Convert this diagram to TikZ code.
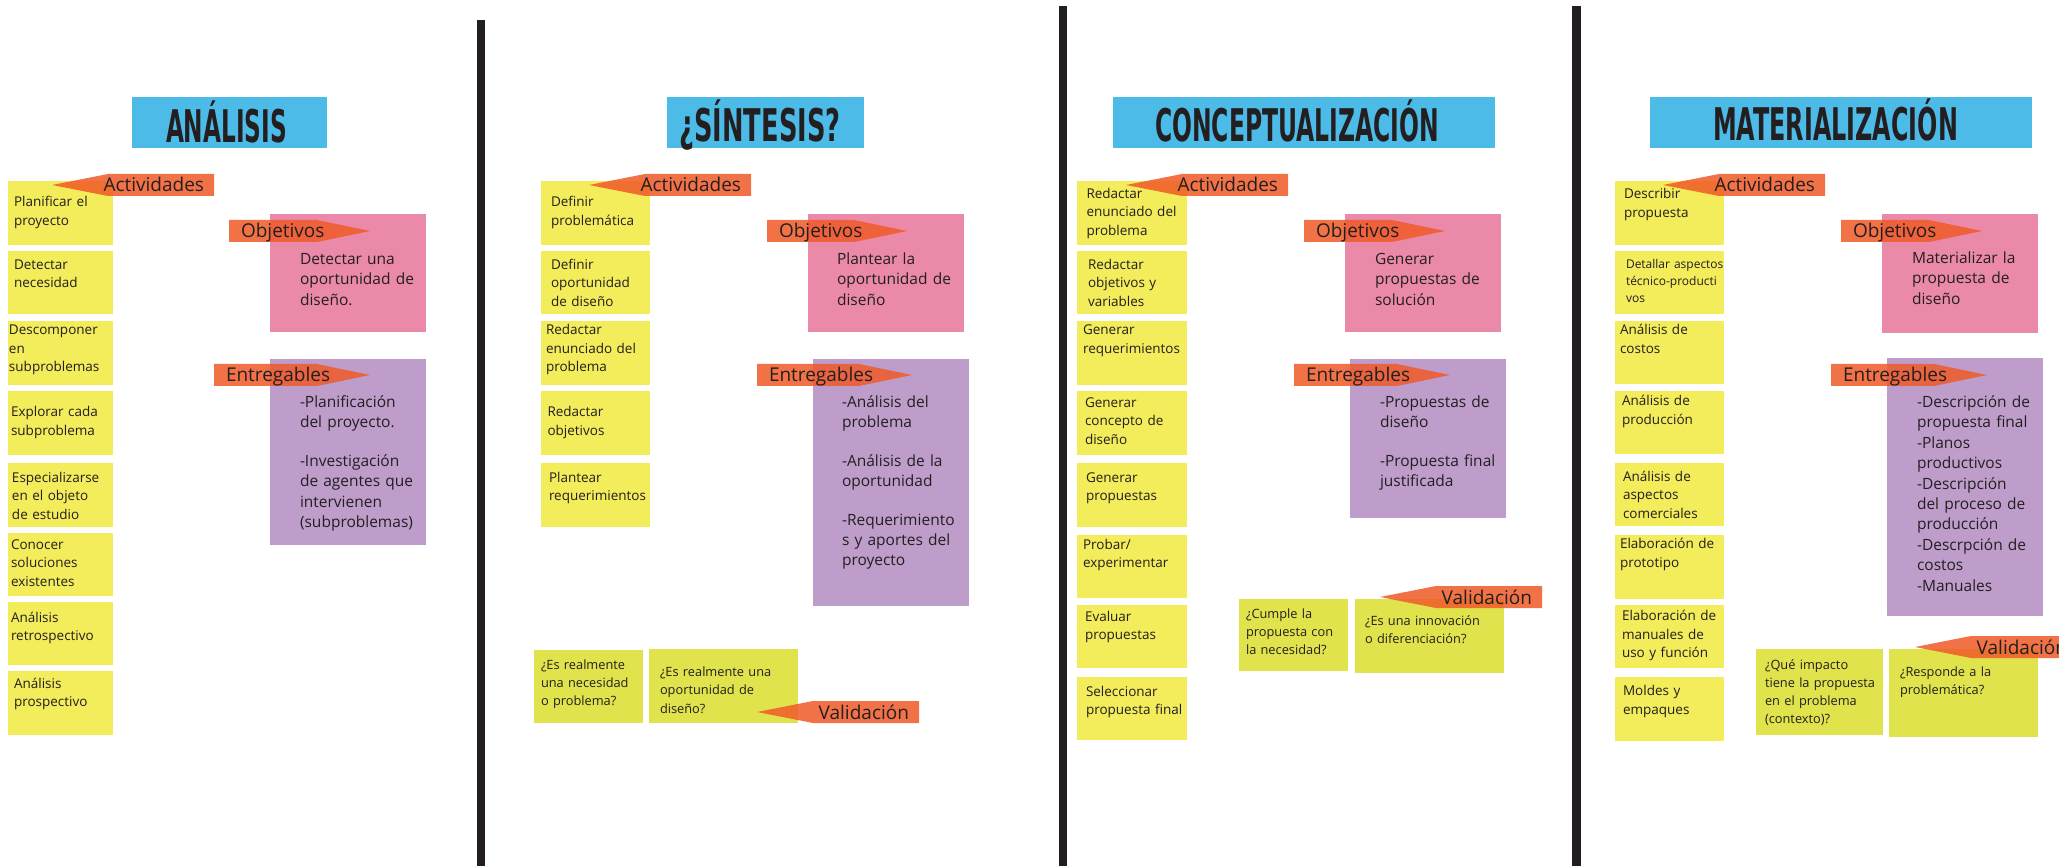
\documentclass[tikz,border=0pt]{standalone}
\usepackage{fontspec}
\usepackage{graphicx}
\setmainfont{Open Sans}
\newfontfamily\titlefont{DejaVu Sans}
\usetikzlibrary{fit}

\definecolor{ink}{RGB}{35,31,32}
\definecolor{titleblue}{RGB}{77,187,231}
\definecolor{postit}{RGB}{243,236,91}
\definecolor{lime}{RGB}{224,227,76}
\definecolor{rose}{RGB}{234,137,168}
\definecolor{lilac}{RGB}{190,157,203}
\definecolor{tagorange}{RGB}{240,90,40}

\tikzset{
  card/.style={rectangle, inner sep=0pt, outer sep=0pt, draw=none},
  txt/.style={inner sep=0pt, outer sep=0pt, anchor=base west, text width=220pt, align=left, text=ink},
  acttxt/.style={txt, font=\fontsize{13.5}{18.5}\selectfont},
  smalltxt/.style={txt, font=\fontsize{12}{17}\selectfont},
  bigtxt/.style={txt, font=\fontsize{15.5}{20.4}\selectfont},
  valtxt/.style={txt, font=\fontsize{12.8}{18.2}\selectfont},
  tagfill/.style={fill=tagorange, fill opacity=0.85},
  tagtxt/.style={inner sep=0pt, outer sep=0pt, text=ink, font=\fontsize{19}{19}\selectfont},
  titletxt/.style={inner sep=0pt, outer sep=0pt, anchor=base, text=ink},
  divider/.style={fill=ink}
}

% a coloured card spanning two corners
\newcommand\cardbox[4]{%
  \path (#3) coordinate (#2-nw) (#4) coordinate (#2-se);
  \node[card, #1, fit=(#2-nw)(#2-se)] (#2) {};}
% text placed at the baseline of its first line
\newcommand\cardtext[4]{\node[#1] (#2) at (#3) {#4};}
% tag pointing left: name, tip x, top y, label
\newcommand\tagL[4]{%
  \fill[tagfill] (#2,#3+11) -- (#2+56,#3) -- (#2+162,#3) -- (#2+162,#3+22) -- (#2+56,#3+22) -- cycle;
  \node[tagtxt, anchor=base east] (#1) at (#2+152,#3+18) {#4};}
% tag pointing right: name, left x, tip x, top y, label
\newcommand\tagR[5]{%
  \fill[tagfill] (#2,#4) -- (#3-53,#4) -- (#3,#4+11) -- (#3-53,#4+22) -- (#2,#4+22) -- cycle;
  \node[tagtxt, anchor=base west] (#1) at (#2+12,#4+18) {#5};}
% heading: name, centre x, baseline y, width, text
\newcommand\heading[5]{%
  \node[titletxt] (#1) at (#2,#3) {\resizebox{#4pt}{\height}{\titlefont\bfseries\fontsize{45}{45}\selectfont #5}};}

\begin{document}
\begin{tikzpicture}[x=1pt, y=-1pt]
\useasboundingbox (0,0) rectangle (2059,866);
\fill[white] (0,0) rectangle (2059,866);

% column dividers
\fill[divider] (477,20) rectangle (485,866);
\fill[divider] (1059,6) rectangle (1067,866);
\fill[divider] (1572,6) rectangle (1581,866);

% ---------------- headings ----------------
\cardbox{fill=titleblue}{h1}{132,97}{327,148}
\cardbox{fill=titleblue}{h2}{667,97}{864,148}
\cardbox{fill=titleblue}{h3}{1113,97}{1495,148}
\cardbox{fill=titleblue}{h4}{1650,97}{2032,148}
\heading{h1t}{226.5}{143}{121}{ANÁLISIS}
\heading{h2t}{760}{142}{161}{¿SÍNTESIS?}
\heading{h3t}{1297}{142}{284}{CONCEPTUALIZACIÓN}
\heading{h4t}{1835.5}{141}{245}{MATERIALIZACIÓN}

% ---------------- column 1: analysis ----------------
\cardbox{fill=postit}{a1}{8,181}{113,245}
\cardbox{fill=postit}{a2}{8,251}{113,314}
\cardbox{fill=postit}{a3}{8,321}{113,385}
\cardbox{fill=postit}{a4}{8,391}{113,455}
\cardbox{fill=postit}{a5}{8,463}{113,527}
\cardbox{fill=postit}{a6}{8,533}{113,596}
\cardbox{fill=postit}{a7}{8,602}{113,665}
\cardbox{fill=postit}{a8}{8,671}{113,735}
\cardtext{acttxt}{a1t}{14,207}{Planificar el\\proyecto}
\cardtext{acttxt}{a2t}{14,269.5}{Detectar\\necesidad}
\cardtext{acttxt}{a3t}{9,335}{Descomponer\\en\\subproblemas}
\cardtext{acttxt}{a4t}{11,417}{Explorar cada\\subproblema}
\cardtext{acttxt}{a5t}{12,482}{Especializarse\\en el objeto\\de estudio}
\cardtext{acttxt}{a6t}{11,549}{Conocer\\soluciones\\existentes}
\cardtext{acttxt}{a7t}{11,622}{Análisis\\retrospectivo}
\cardtext{acttxt}{a8t}{14,688}{Análisis\\prospectivo}
\tagL{a-act}{52}{174}{Actividades}

\cardbox{fill=rose}{a-obj}{270,214}{426,332}
\cardtext{bigtxt}{a-objt}{300,264.5}{Detectar una\\oportunidad de\\diseño.}
\tagR{a-objtag}{229}{370}{220}{Objetivos}

\cardbox{fill=lilac}{a-ent}{270,359}{426,545}
\cardtext{bigtxt}{a-entt}{300,407.5}{-Planificación\\del proyecto.\\[18pt]-Investigación\\de agentes que\\intervienen\\(subproblemas)}
\tagR{a-enttag}{214}{370}{364}{Entregables}

% ---------------- column 2: synthesis ----------------
\cardbox{fill=postit}{b1}{541,181}{650,245}
\cardbox{fill=postit}{b2}{541,251}{650,314}
\cardbox{fill=postit}{b3}{541,321}{650,385}
\cardbox{fill=postit}{b4}{541,391}{650,455}
\cardbox{fill=postit}{b5}{541,463}{650,527}
\cardtext{acttxt}{b1t}{551,207}{Definir\\problemática}
\cardtext{acttxt}{b2t}{551,269.5}{Definir\\oportunidad\\de diseño}
\cardtext{acttxt}{b3t}{546,335}{Redactar\\enunciado del\\problema}
\cardtext{acttxt}{b4t}{547.5,417}{Redactar\\objetivos}
\cardtext{acttxt}{b5t}{549,482}{Plantear\\requerimientos}
\tagL{b-act}{589}{174}{Actividades}

\cardbox{fill=rose}{b-obj}{808,214}{964,332}
\cardtext{bigtxt}{b-objt}{837,264.5}{Plantear la\\oportunidad de\\diseño}
\tagR{b-objtag}{767}{907}{220}{Objetivos}

\cardbox{fill=lilac}{b-ent}{813,359}{969,606}
\cardtext{bigtxt}{b-entt}{842,407.5}{-Análisis del\\problema\\[18pt]-Análisis de la\\oportunidad\\[18pt]-Requerimiento\\s y aportes del\\proyecto}
\tagR{b-enttag}{757}{912}{364}{Entregables}

\cardbox{fill=lime}{b-v1}{534,650}{643,723}
\cardbox{fill=lime}{b-v2}{649,649}{798,723}
\cardtext{valtxt}{b-v1t}{541,669}{¿Es realmente\\una necesidad\\o problema?}
\cardtext{valtxt}{b-v2t}{660,676.6}{¿Es realmente una\\oportunidad de\\diseño?}
\tagL{b-val}{757}{701}{Validación}

% ---------------- column 3: conceptualisation ----------------
\cardbox{fill=postit}{c1}{1077,181}{1187,245}
\cardbox{fill=postit}{c2}{1077,251}{1187,314}
\cardbox{fill=postit}{c3}{1077,321}{1187,385}
\cardbox{fill=postit}{c4}{1077,391}{1187,455}
\cardbox{fill=postit}{c5}{1077,463}{1187,527}
\cardbox{fill=postit}{c6}{1077,535}{1187,598}
\cardbox{fill=postit}{c7}{1077,605}{1187,668}
\cardbox{fill=postit}{c8}{1077,677}{1187,740}
\cardtext{acttxt}{c1t}{1086.5,198.5}{Redactar\\enunciado del\\problema}
\cardtext{acttxt}{c2t}{1088,269.5}{Redactar\\objetivos y\\variables}
\cardtext{acttxt}{c3t}{1083,335}{Generar\\requerimientos}
\cardtext{acttxt}{c4t}{1085,407}{Generar\\concepto de\\diseño}
\cardtext{acttxt}{c5t}{1086,482}{Generar\\propuestas}
\cardtext{acttxt}{c6t}{1083,549}{Probar/\\experimentar}
\cardtext{acttxt}{c7t}{1085,621}{Evaluar\\propuestas}
\cardtext{acttxt}{c8t}{1086,696}{Seleccionar\\propuesta final}
\tagL{c-act}{1126}{174}{Actividades}

\cardbox{fill=rose}{c-obj}{1345,214}{1501,332}
\cardtext{bigtxt}{c-objt}{1375,264.5}{Generar\\propuestas de\\solución}
\tagR{c-objtag}{1304}{1445}{220}{Objetivos}

\cardbox{fill=lilac}{c-ent}{1350,359}{1506,518}
\cardtext{bigtxt}{c-entt}{1380,407.5}{-Propuestas de\\diseño\\[18pt]-Propuesta final\\justificada}
\tagR{c-enttag}{1294}{1450}{364}{Entregables}

\cardbox{fill=lime}{c-v1}{1239,599}{1347.5,671}
\cardbox{fill=lime}{c-v2}{1355,599}{1504,673}
\cardtext{valtxt}{c-v1t}{1246,618.5}{¿Cumple la\\propuesta con\\la necesidad?}
\cardtext{valtxt}{c-v2t}{1365,625.7}{¿Es una innovación\\o diferenciación?}
\tagL{c-val}{1380}{586}{Validación}

% ---------------- column 4: materialisation ----------------
\cardbox{fill=postit}{d1}{1615,181}{1724,245}
\cardbox{fill=postit}{d2}{1615,251}{1724,314}
\cardbox{fill=postit}{d3}{1615,321}{1724,384}
\cardbox{fill=postit}{d4}{1615,391}{1724,454}
\cardbox{fill=postit}{d5}{1615,463}{1724,526}
\cardbox{fill=postit}{d6}{1615,535}{1724,599}
\cardbox{fill=postit}{d7}{1615,605}{1724,668}
\cardbox{fill=postit}{d8}{1615,677}{1724,741}
\cardtext{acttxt}{d1t}{1624,198.7}{Describir\\propuesta}
\cardtext{smalltxt}{d2t}{1626,268.5}{Detallar aspectos\\técnico-producti\\vos}
\cardtext{acttxt}{d3t}{1620,335}{Análisis de\\costos}
\cardtext{acttxt}{d4t}{1622,406}{Análisis de\\producción}
\cardtext{acttxt}{d5t}{1623,481}{Análisis de\\aspectos\\comerciales}
\cardtext{acttxt}{d6t}{1620,548.7}{Elaboración de\\prototipo}
\cardtext{acttxt}{d7t}{1622,620.6}{Elaboración de\\manuales de\\uso y función}
\cardtext{acttxt}{d8t}{1623,695.6}{Moldes y\\empaques}
\tagL{d-act}{1663}{174}{Actividades}

\cardbox{fill=rose}{d-obj}{1882,214}{2038,333}
\cardtext{bigtxt}{d-objt}{1912,263.5}{Materializar la\\propuesta de\\diseño}
\tagR{d-objtag}{1841}{1982}{220}{Objetivos}

\cardbox{fill=lilac}{d-ent}{1887,358}{2043,616}
\cardtext{bigtxt}{d-entt}{1917,407.5}{-Descripción de\\propuesta final\\-Planos\\productivos\\-Descripción\\del proceso de\\producción\\-Descrpción de\\costos\\-Manuales}
\tagR{d-enttag}{1831}{1987}{364}{Entregables}

\cardbox{fill=lime}{d-v1}{1756,649}{1883,735}
\cardbox{fill=lime}{d-v2}{1889,649}{2038,737}
\cardtext{valtxt}{d-v1t}{1765,669}{¿Qué impacto\\tiene la propuesta\\en el problema\\(contexto)?}
\cardtext{valtxt}{d-v2t}{1900,676}{¿Responde a la\\problemática?}
\tagL{d-val}{1915}{636}{Validación}
\end{tikzpicture}
\end{document}
